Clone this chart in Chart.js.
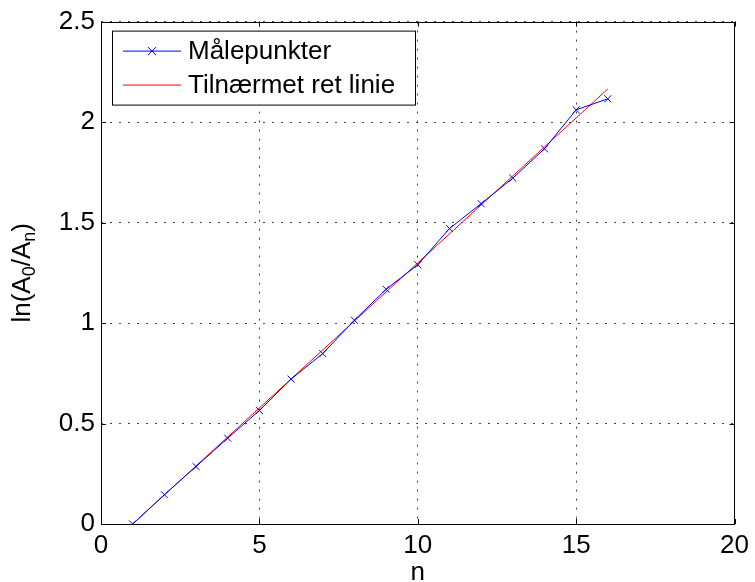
<!DOCTYPE html>
<html>
<head>
<meta charset="utf-8">
<script src="https://cdn.jsdelivr.net/npm/chart.js@4.4.0/dist/chart.umd.min.js"></script>
<style>
  html, body { margin: 0; padding: 0; background: #fff; }
  #wrap { width: 755px; height: 582px; }
</style>
</head>
<body>
<div id="wrap"><canvas id="lnChart" width="755" height="582"></canvas></div>
<script>
// measured points
const nValues = [1, 2, 3, 4, 5, 6, 7, 8, 9, 10, 11, 12, 13, 14, 15, 16];
const lnRatio = [0.0, 0.146, 0.286, 0.427, 0.565, 0.721, 0.848, 1.014, 1.168, 1.29, 1.47, 1.594, 1.721, 1.867, 2.061, 2.116];
// fitted straight line (end points)
const fitN = [1, 16];
const fitLn = [0.0, 2.165];

const seriesLabels = ['Målepunkter', 'Tilnærmet ret linie'];
const xTicks = [0, 5, 10, 15, 20];
const yTicks = [0, 0.5, 1, 1.5, 2, 2.5];
const xTitle = 'n';
const yTitleParts = [['ln(A', false], ['0', true], ['/A', false], ['n', true], [')', false]];

const FONT = '"Liberation Sans", Arial, Helvetica, sans-serif';

const toPoints = (xs, ys) => xs.map((x, i) => ({ x: x, y: ys[i] }));

const matlabFrame = {
  id: 'matlabFrame',
  afterDatasetsDraw(chart) {
    const ctx = chart.ctx;
    const a = chart.chartArea;
    const xs = chart.scales.x, ys = chart.scales.y;
    ctx.save();
    ctx.strokeStyle = '#000';
    ctx.lineWidth = 1;
    // box
    ctx.strokeRect(Math.round(a.left) + 0.5, Math.round(a.top) + 0.5,
      Math.round(a.right - a.left) - 1, Math.round(a.bottom - a.top));
    // inward tick marks on all four sides
    ctx.beginPath();
    xTicks.forEach(v => {
      const px = Math.round(xs.getPixelForValue(v)) + 0.5;
      ctx.moveTo(px, a.bottom); ctx.lineTo(px, a.bottom - 5);
      ctx.moveTo(px, a.top); ctx.lineTo(px, a.top + 5);
    });
    yTicks.forEach(v => {
      const py = Math.round(ys.getPixelForValue(v)) + 0.5;
      ctx.moveTo(a.left, py); ctx.lineTo(a.left + 5, py);
      ctx.moveTo(a.right, py); ctx.lineTo(a.right - 5, py);
    });
    ctx.stroke();

    // axis titles
    ctx.fillStyle = '#000';
    ctx.font = '26px ' + FONT;
    ctx.textAlign = 'center';
    ctx.textBaseline = 'alphabetic';
    ctx.fillText(xTitle, (a.left + a.right) / 2, 580);

    const big = '26px ' + FONT, small = '18px ' + FONT;
    let total = 0;
    yTitleParts.forEach(([t, sub]) => { ctx.font = sub ? small : big; total += ctx.measureText(t).width; });
    ctx.translate(30, (a.top + a.bottom) / 2);
    ctx.rotate(-Math.PI / 2);
    ctx.textAlign = 'left';
    let cx = -total / 2;
    yTitleParts.forEach(([t, sub]) => {
      ctx.font = sub ? small : big;
      ctx.fillText(t, cx, sub ? 5 : 0);
      cx += ctx.measureText(t).width;
    });
    ctx.restore();

    // legend
    ctx.save();
    const lx = a.left + 11, ly = a.top + 9, lw = 303, lh = 74;
    ctx.fillStyle = '#fff';
    ctx.fillRect(lx, ly, lw, lh);
    ctx.strokeStyle = '#000';
    ctx.lineWidth = 1;
    ctx.strokeRect(lx + 0.5, ly + 0.5, lw, lh);
    ctx.font = '26px ' + FONT;
    ctx.textBaseline = 'middle';
    ctx.textAlign = 'left';
    chart.data.datasets.forEach((ds, i) => {
      const ry = ly + 20.5 + i * 34;
      ctx.strokeStyle = ds.borderColor;
      ctx.lineWidth = 1;
      ctx.beginPath();
      ctx.moveTo(lx + 11, ry); ctx.lineTo(lx + 69, ry);
      if (ds.pointRadius > 0) {
        const mx = lx + 40, r = 4;
        ctx.moveTo(mx - r, ry - r); ctx.lineTo(mx + r, ry + r);
        ctx.moveTo(mx - r, ry + r); ctx.lineTo(mx + r, ry - r);
      }
      ctx.stroke();
      ctx.fillStyle = '#000';
      ctx.fillText(ds.label, lx + 76, ry + 1);
    });
    ctx.restore();
  }
};

new Chart(document.getElementById('lnChart'), {
  type: 'scatter',
  data: {
    datasets: [
      {
        label: seriesLabels[0],
        data: toPoints(nValues, lnRatio),
        showLine: true,
        borderColor: '#0000ff',
        backgroundColor: '#0000ff',
        borderWidth: 1,
        pointStyle: 'crossRot',
        pointRadius: 5,
        pointBorderWidth: 1,
        pointBorderColor: '#0000ff'
      },
      {
        label: seriesLabels[1],
        data: toPoints(fitN, fitLn),
        showLine: true,
        borderColor: '#ff0000',
        backgroundColor: '#ff0000',
        borderWidth: 1,
        pointRadius: 0
      }
    ]
  },
  options: {
    responsive: false,
    animation: false,
    events: [],
    layout: { padding: { left: 0, top: 21, right: 14, bottom: 0 } },
    plugins: { legend: { display: false }, tooltip: { enabled: false } },
    scales: {
      x: {
        type: 'linear',
        min: 0, max: 20,
        afterFit: s => { s.height = 58; },
        afterBuildTicks: s => { s.ticks = xTicks.map(v => ({ value: v })); },
        ticks: { color: '#000', font: { family: FONT, size: 26 }, padding: 6, maxRotation: 0,
                 callback: v => String(v) },
        grid: { color: '#444', drawTicks: false, lineWidth: 1 },
        border: { display: false, dash: [2, 7] }
      },
      y: {
        type: 'linear',
        min: 0, max: 2.5,
        afterFit: s => { s.width = 101; },
        afterBuildTicks: s => { s.ticks = yTicks.map(v => ({ value: v })); },
        ticks: { color: '#000', font: { family: FONT, size: 26 }, padding: 6,
                 callback: v => String(v) },
        grid: { color: '#444', drawTicks: false, lineWidth: 1 },
        border: { display: false, dash: [2, 7] }
      }
    }
  },
  plugins: [matlabFrame]
});
</script>
</body>
</html>
